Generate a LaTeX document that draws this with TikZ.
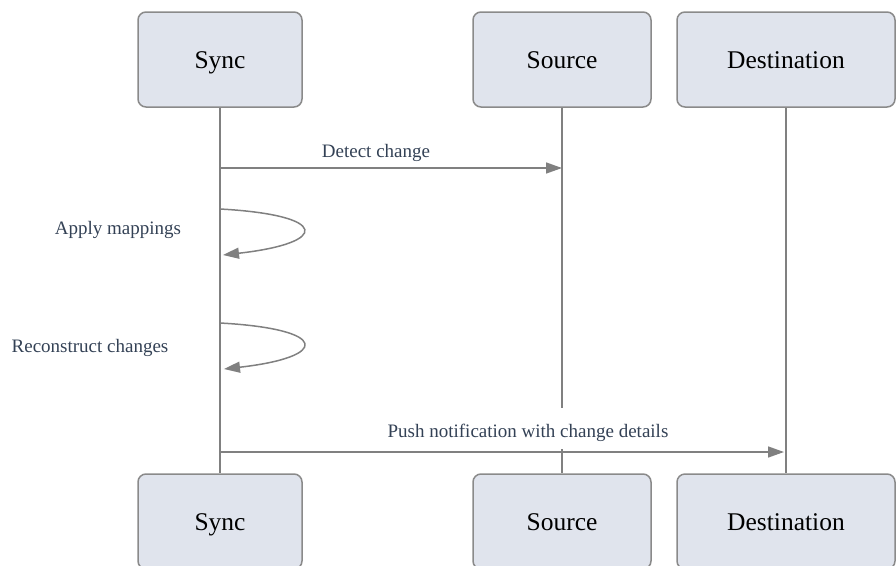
\documentclass[tikz,border=0pt]{standalone}
\usepackage{fontspec}
\setmainfont{Liberation Serif}
\usetikzlibrary{arrows.meta}
\definecolor{boxfill}{HTML}{E0E4ED}
\definecolor{boxline}{HTML}{8A8A8A}
\definecolor{arrowc}{HTML}{808080}
\definecolor{labelc}{HTML}{334155}
\begin{document}
\begin{tikzpicture}[x=1pt,y=-1pt,
  actor/.style={draw=boxline, fill=boxfill, line width=1.5pt, rounded corners=8pt,
    minimum width=#1, minimum height=95pt, inner sep=0pt,
    text height=23pt, text depth=6pt,
    font=\fontsize{25.5}{30}\selectfont},
  life/.style={draw=arrowc, line width=1.5pt},
  msg/.style={draw=arrowc, line width=1.5pt, -{Triangle[length=16pt,width=11pt]}},
  lbl/.style={font=\fontsize{19}{22}\selectfont, text=labelc, inner sep=1pt}]
\useasboundingbox (0,0) rectangle (896,565);
% top actors
\node[actor=164pt] (syncT) at (220,59.5) {Sync};
\node[actor=178pt] (srcT) at (562,59.5) {Source};
\node[actor=218pt] (dstT) at (786,59.5) {Destination};
% bottom actors
\node[actor=164pt] (syncB) at (220,521.5) {Sync};
\node[actor=178pt] (srcB) at (562,521.5) {Source};
\node[actor=218pt] (dstB) at (786,521.5) {Destination};
% lifelines
\draw[life] (syncT.south) -- (syncB.north);
\draw[life] (srcT.south) -- (srcB.north);
\draw[life] (dstT.south) -- (dstB.north);
% message rows
\coordinate (r1) at (0,168);
\coordinate (r4) at (0,452);
\coordinate (a1s) at (220,209);
\coordinate (a1e) at (223,255);
\coordinate (a2s) at (220,323);
\coordinate (a2e) at (224,369);
% Detect change
\draw[msg] (syncT |- r1) -- (srcT |- r1);
\node[lbl] (l1) at (376,153) {Detect change};
% Apply mappings
\draw[msg] (a1s) .. controls (330,215) and (330,243) .. (a1e);
\node[lbl] (l2) at (118,230) {Apply mappings};
% Reconstruct changes
\draw[msg] (a2s) .. controls (330,329) and (330,357) .. (a2e);
\node[lbl] (l3) at (90,348) {Reconstruct changes};
% Push notification
\draw[msg] (syncT |- r4) -- ([xshift=-2pt]dstT |- r4);
\node[lbl, fill=white, text height=28pt, text depth=11pt, anchor=base] (l4) at (528,437) {Push notification with change details};
\end{tikzpicture}
\end{document}
